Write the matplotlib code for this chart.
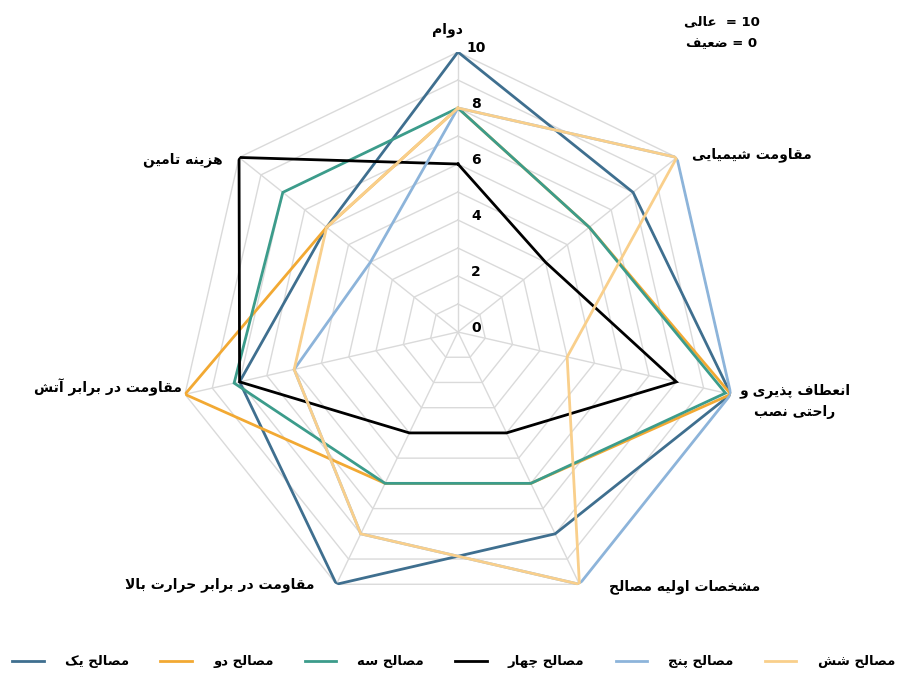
import numpy as np
import matplotlib
matplotlib.use("Agg")
import matplotlib.pyplot as plt
from matplotlib.lines import Line2D

# --- data -------------------------------------------------------------
categories = ["دوام", "مقاومت شیمیایی", "انعطاف پذیری و\nراحتی نصب",
              "مشخصات اولیه مصالح", "مقاومت در برابر حرارت بالا",
              "مقاومت در برابر آتش", "هزینه تامین"]
series_names = ["مصالح یک", "مصالح دو", "مصالح سه",
                "مصالح چهار", "مصالح پنج", "مصالح شش"]
s1 = [10, 8, 10, 8, 10, 8, 6]
s2 = [8, 6, 10, 6, 6, 10, 6]
s3 = [8, 6, 9.8, 6, 6, 8.2, 8]
s4 = [6, 4, 8, 4, 4, 8, 10]
s5 = [8, 10, 10, 10, 8, 6, 4]
s6 = [8, 10, 4, 10, 8, 6, 6]
values = [s1, s2, s3, s4, s5, s6]
ticks = [0, 2, 4, 6, 8, 10]
colors = ["#3F6F8F", "#F2A933", "#3C9C8B", "#000000", "#8DB4DA", "#F9CF8B"]

# --- minimal arabic/persian shaping (matplotlib has no text shaping) --
DUAL = {
    "ب": "\uFE8F\uFE90\uFE91\uFE92", "پ": "\uFB56\uFB57\uFB58\uFB59",
    "ت": "\uFE95\uFE96\uFE97\uFE98", "ج": "\uFE9D\uFE9E\uFE9F\uFEA0",
    "چ": "\uFB7A\uFB7B\uFB7C\uFB7D", "ح": "\uFEA1\uFEA2\uFEA3\uFEA4",
    "خ": "\uFEA5\uFEA6\uFEA7\uFEA8", "س": "\uFEB1\uFEB2\uFEB3\uFEB4",
    "ش": "\uFEB5\uFEB6\uFEB7\uFEB8", "ص": "\uFEB9\uFEBA\uFEBB\uFEBC",
    "ض": "\uFEBD\uFEBE\uFEBF\uFEC0", "ط": "\uFEC1\uFEC2\uFEC3\uFEC4",
    "ع": "\uFEC9\uFECA\uFECB\uFECC", "ف": "\uFED1\uFED2\uFED3\uFED4",
    "ق": "\uFED5\uFED6\uFED7\uFED8", "ک": "\uFB8E\uFB8F\uFB90\uFB91",
    "ل": "\uFEDD\uFEDE\uFEDF\uFEE0", "م": "\uFEE1\uFEE2\uFEE3\uFEE4",
    "ن": "\uFEE5\uFEE6\uFEE7\uFEE8", "ه": "\uFEE9\uFEEA\uFEEB\uFEEC",
    "ی": "\uFBFC\uFBFD\uFBFE\uFBFF",
}
RIGHT = {
    "ا": "\uFE8D\uFE8E", "آ": "\uFE81\uFE82", "د": "\uFEA9\uFEAA",
    "ذ": "\uFEAB\uFEAC", "ر": "\uFEAD\uFEAE", "ز": "\uFEAF\uFEB0",
    "و": "\uFEED\uFEEE",
    "لا": "\uFEFB\uFEFC", "لآ": "\uFEF5\uFEF6",
}


def shape_line(text):
    # merge lam-alef first
    units = []
    i = 0
    while i < len(text):
        if text[i] == "ل" and i + 1 < len(text) and text[i + 1] in "اآ":
            units.append(text[i:i + 2])
            i += 2
        else:
            units.append(text[i])
            i += 1
    out = []
    for k, u in enumerate(units):
        if u not in DUAL and u not in RIGHT:
            out.append(u)
            continue
        prev = units[k - 1] if k > 0 else None
        nxt = units[k + 1] if k + 1 < len(units) else None
        join_prev = prev in DUAL
        join_next = u in DUAL and (nxt in DUAL or nxt in RIGHT)
        if u in RIGHT:
            out.append(RIGHT[u][1] if join_prev else RIGHT[u][0])
        else:
            f = DUAL[u]
            if join_prev and join_next:
                out.append(f[3])
            elif join_prev:
                out.append(f[1])
            elif join_next:
                out.append(f[2])
            else:
                out.append(f[0])
    return "".join(out)[::-1]


def fa(text):
    return "\n".join(shape_line(t) for t in text.split("\n"))


plt.rcParams["font.family"] = ["DejaVu Sans"]

fig = plt.figure(figsize=(9.02, 6.78), dpi=100)
ax = fig.add_axes([0.1973, 0.0973, 0.6208, 0.826], projection="polar")
ax.set_theta_zero_location("N")
ax.set_theta_direction(-1)
ax.set_ylim(0, 10)
ax.grid(False)
ax.spines["polar"].set_visible(False)
ax.set_xticks([])
ax.set_yticks([])
ax.patch.set_alpha(0)

n = len(categories)
angles = np.arange(n) * 2 * np.pi / n
closed = np.append(angles, angles[0])

# heptagon grid
gcol = "#DADADA"
for r in range(1, 11):
    ax.plot(closed, [r] * (n + 1), color=gcol, lw=1.0, zorder=1)
for a in angles:
    ax.plot([a, a], [0, 10], color=gcol, lw=1.0, zorder=1)

for vals, c in zip(values, colors):
    v = np.append(vals, vals[0])
    ax.plot(closed, v, color=c, lw=2.0, zorder=3, solid_joinstyle="miter")

for t in ticks:
    ax.annotate(str(t), (0, t), xytext=(18, 4), textcoords="offset pixels",
                ha="center", va="center", fontsize=10, fontweight="bold",
                zorder=4)

# category labels (pixel positions from top-left)
label_pos = [(447, 30), (752, 155), (795, 401), (685, 587),
             (220, 585), (108, 387), (183, 160)]
for txt, (px, py) in zip(categories, label_pos):
    fig.text(px / 902, 1 - py / 678, fa(txt), ha="center", va="center",
             fontsize=10, fontweight="bold", linespacing=1.7)

fig.text(722 / 902, 1 - 22 / 678, shape_line("عالی") + "  = 10", ha="center",
         va="center", fontsize=9.5, fontweight="bold")
fig.text(722 / 902, 1 - 43 / 678, shape_line("ضعیف") + " = 0", ha="center",
         va="center", fontsize=9.5, fontweight="bold")

handles = [Line2D([], [], color=c, lw=2.0) for c in colors]
fig.legend(handles, [fa(s) for s in series_names], loc="center",
           bbox_to_anchor=(0.503, 1 - 662 / 678), ncol=6, frameon=False,
           handlelength=2.4, columnspacing=2.35, handletextpad=1.6,
           prop={"weight": "bold", "size": 9.5})

fig.savefig("out.png", dpi=100, facecolor="white")
